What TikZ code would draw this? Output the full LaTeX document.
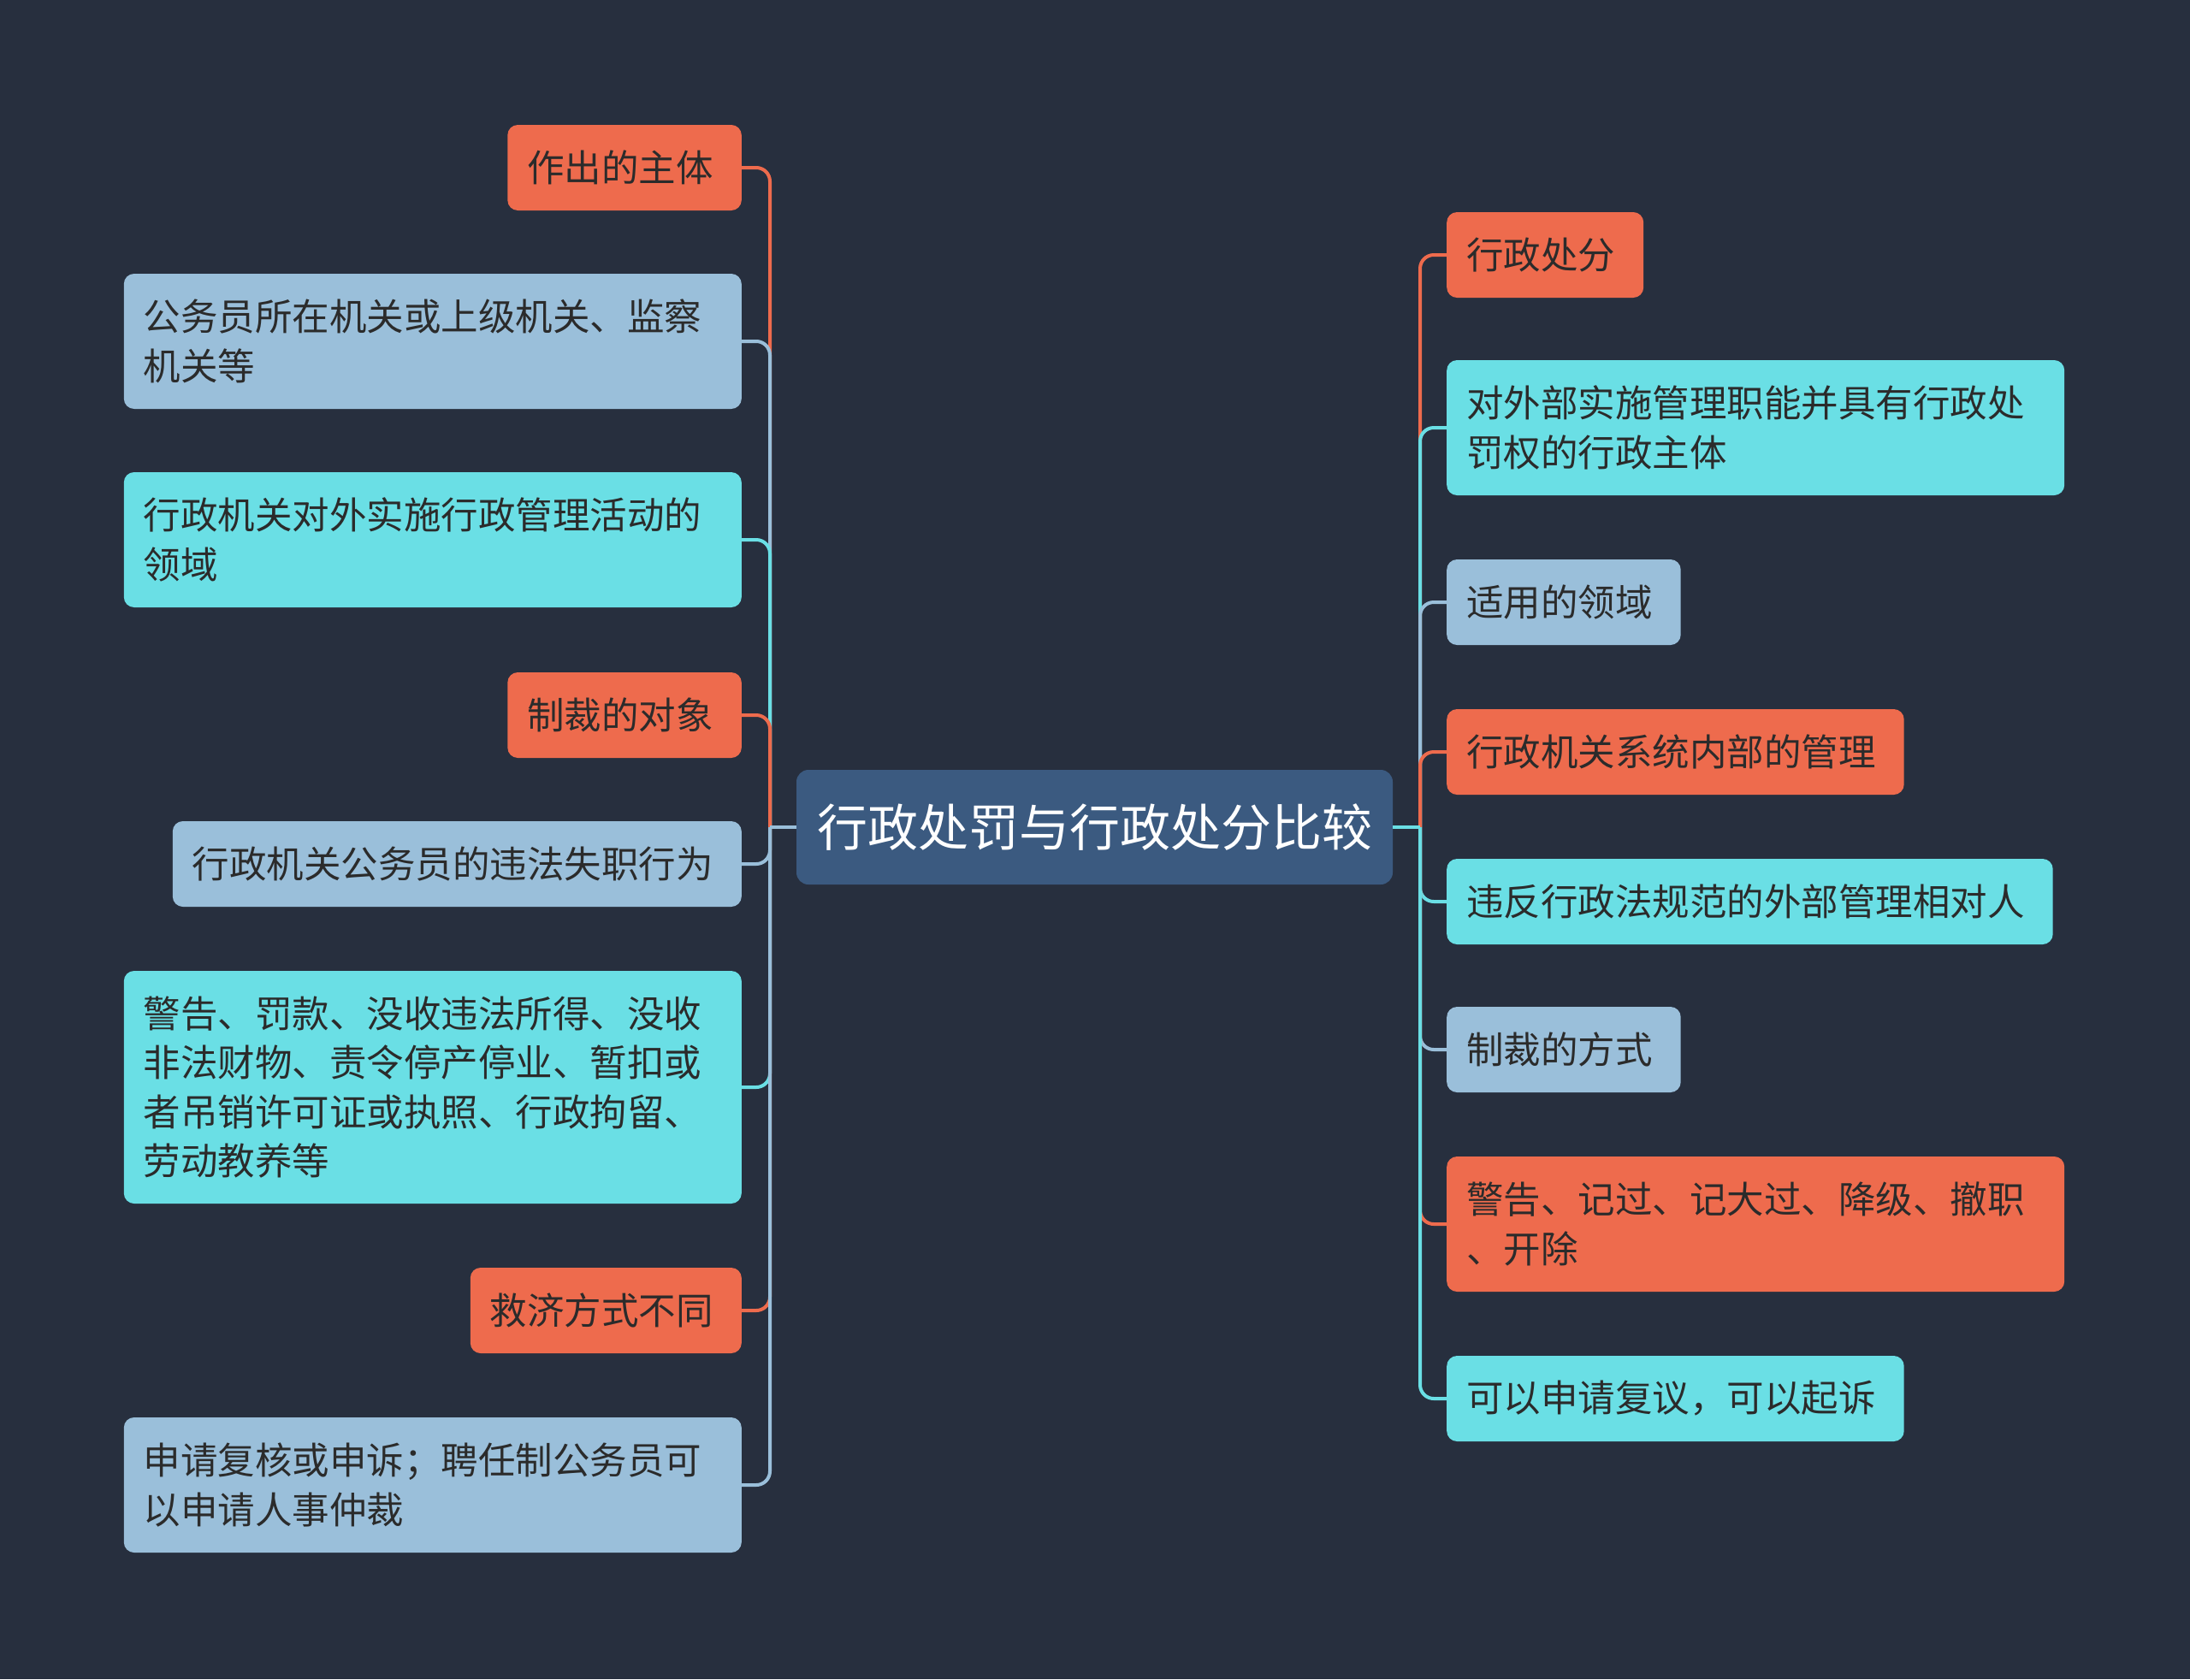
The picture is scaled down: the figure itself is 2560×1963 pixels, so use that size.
\documentclass[tikz,border=0pt]{standalone}
\usepackage{fontspec}
\newfontfamily\cjk{Noto Sans CJK SC}
\definecolor{bgdark}{HTML}{272F3E}
\definecolor{rootblue}{HTML}{3B5A80}
\definecolor{topicorange}{HTML}{EE6B4D}
\definecolor{topiccyan}{HTML}{6ADFE5}
\definecolor{topicgrey}{HTML}{9ABFDA}
\definecolor{txtdark}{HTML}{2B2B2B}

\begin{document}
\begin{tikzpicture}[x=1pt,y=-1pt,
  topic/.style={rounded corners=12pt, inner xsep=28pt, inner ysep=0pt,
    minimum height=100pt, align=left, text=txtdark,
    font=\cjk\fontsize{43.5}{57.5}\selectfont},
  short/.style={execute at begin node=\kern-5pt, execute at end node=\kern5pt},
  wide/.style={inner xsep=23pt, text width=676pt},
  orangebox/.style={topic, fill=topicorange},
  cyanbox/.style={topic, fill=topiccyan},
  greybox/.style={topic, fill=topicgrey},
  link/.style={line width=4pt, rounded corners=16pt}]

  \fill [bgdark] (0,0) rectangle (2560,1963);

  \node [fill=rootblue, rounded corners=14pt, minimum width=697pt, minimum height=134pt,
    text=white, font=\cjk\fontsize{59}{70}\selectfont] (root) at (1279.5,967) {行政处罚与行政处分比较};

  \coordinate (lhub) at (900,967);
  \coordinate (rhub) at (1660,967);

  % left side
  \node [orangebox, short, anchor=east] (subject) at (867,196) {作出的主体};
  \node [greybox, wide, anchor=east, minimum height=158pt] (civil) at (867,399) {公务员所在机关或上级机关、监察\\机关等};
  \node [cyanbox, wide, anchor=east, minimum height=158pt] (field) at (867,631) {行政机关对外实施行政管理活动的\\领域};
  \node [orangebox, short, anchor=east] (target) at (867,836) {制裁的对象};
  \node [greybox, short, anchor=east] (misconduct) at (867,1010) {行政机关公务员的违法失职行为};
  \node [cyanbox, wide, anchor=east, minimum height=272pt] (penalty) at (867,1271) {警告、罚款、没收违法所得、没收\\非法财物、责令停产停业、暂扣或\\者吊销许可证或执照、行政拘留、\\劳动教养等};
  \node [orangebox, short, anchor=east] (remedy) at (867,1532) {救济方式不同};
  \node [greybox, wide, anchor=east, minimum height=158pt] (appeal) at (867,1736) {申请复核或申诉；聘任制公务员可\\以申请人事仲裁};

  % right side
  \node [orangebox, short, anchor=west] (sanction) at (1691,298) {行政处分};
  \node [cyanbox, wide, anchor=west, minimum height=158pt] (agency) at (1691,500) {对外部实施管理职能并具有行政处\\罚权的行政主体};
  \node [greybox, short, anchor=west] (scope) at (1691,704) {适用的领域};
  \node [orangebox, short, anchor=west] (internal) at (1691,879) {行政机关系统内部的管理};
  \node [cyanbox, short, anchor=west] (outsider) at (1691,1054) {违反行政法规范的外部管理相对人};
  \node [greybox, short, anchor=west] (manner) at (1691,1227) {制裁的方式};
  \node [orangebox, wide, anchor=west, minimum height=158pt] (demerit) at (1691,1431) {警告、记过、记大过、降级、撤职\\、开除};
  \node [cyanbox, short, anchor=west] (review) at (1691,1635) {可以申请复议，可以起诉};

  \foreach \child/\col in {subject/topicorange, civil/topicgrey, field/topiccyan,
    target/topicorange, misconduct/topicgrey, penalty/topiccyan,
    remedy/topicorange, appeal/topicgrey}
    \draw [link, \col] (lhub) |- (\child.east);
  \draw [line width=4pt, topicgrey] (root.west) -- (lhub);

  \foreach \child/\col in {sanction/topicorange, agency/topiccyan, scope/topicgrey,
    internal/topicorange, outsider/topiccyan, manner/topicgrey,
    demerit/topicorange, review/topiccyan}
    \draw [link, \col] (rhub) |- (\child.west);
  \draw [line width=4pt, topiccyan] (root.east) -- (rhub);

\end{tikzpicture}
\end{document}
